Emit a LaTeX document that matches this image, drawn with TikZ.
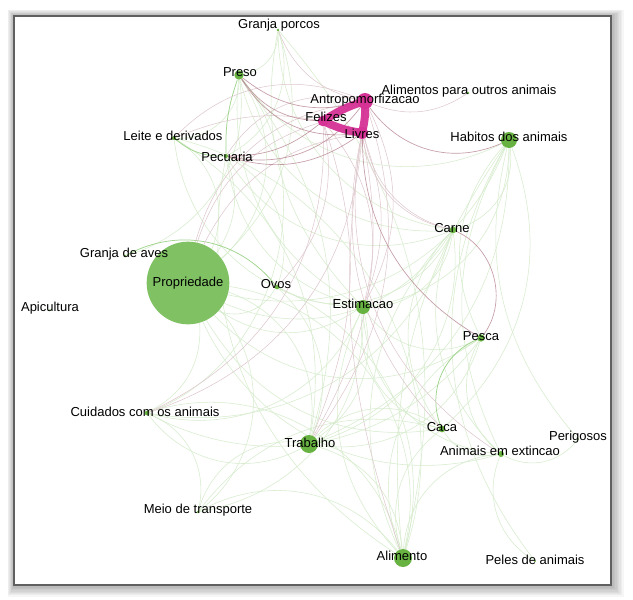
\documentclass[tikz,border=0pt]{standalone}
\usepackage{fontspec}
\setmainfont{Liberation Sans}
\usetikzlibrary{backgrounds}
\definecolor{ngreen}{RGB}{104,178,66}
\definecolor{pgreen}{RGB}{128,193,100}
\definecolor{npink}{RGB}{214,50,150}
\definecolor{eg}{RGB}{214,236,204}
\definecolor{egd}{RGB}{160,212,140}
\definecolor{em}{RGB}{222,200,205}
\definecolor{emd}{RGB}{178,125,138}
\pgfdeclarelayer{bg}
\pgfdeclarelayer{edges}
\pgfsetlayers{bg,edges,main}
\tikzset{
  dot/.style={circle,fill=ngreen,draw=none,inner sep=0pt,minimum size=#1},
  pdot/.style={circle,fill=npink,draw=none,inner sep=0pt,minimum size=#1},
  lbl/.style={inner sep=0pt,font=\fontsize{9.75}{11}\selectfont,text=black},
  ge/.style={draw=eg,line width=0.4pt},
  ged/.style={draw=egd,line width=0.55pt},
  me/.style={draw=em,line width=0.4pt},
  med/.style={draw=emd,line width=0.5pt,opacity=0.75},
  pk/.style={draw=npink,line width=6pt,line cap=round,opacity=0.95}
}
\begin{document}
\begin{tikzpicture}[x=0.75pt,y=-0.75pt]
\useasboundingbox (0,0) rectangle (633,600);
% frame and shadow
\begin{pgfonlayer}{bg}
\fill[white] (0,0) rectangle (633,600);
\foreach \i in {1,...,9}{
  \fill[black,opacity=0.035] (14-\i*0.7,16-\i*0.7) rectangle (611+\i*1.4,585+\i*1.3);
}
\fill[white] (14,16) rectangle (611,585);
\draw[draw=gray!75!black,line width=1.6pt] (14,16) rectangle (611,585);
\end{pgfonlayer}
% nodes (dots)
\node[dot=2pt] (gp) at (278,30) {};
\node[dot=7pt] (preso) at (239,75) {};
\node[pdot=12pt] (antro) at (365,101) {};
\node[dot=2pt] (alout) at (468,93) {};
\node[pdot=8pt] (feli) at (323,121) {};
\node[pdot=9pt] (livr) at (362,133) {};
\node[dot=3pt] (leite) at (174,138) {};
\node[dot=3pt] (pecu) at (226,156) {};
\node[dot=12pt] (habi) at (509,140) {};
\node[dot=5pt] (carne) at (453,230) {};
\node[dot=2pt] (gaves) at (125,256) {};
\node[circle,fill=pgreen,inner sep=0pt,minimum size=62pt] (prop) at (188,283) {};
\node[dot=3.5pt] (ovos) at (277,287) {};
\node[dot=1.5pt] (apic) at (50,310) {};
\node[dot=10.5pt] (esti) at (363,307) {};
\node[dot=5.5pt] (pesca) at (481,338) {};
\node[dot=3.5pt] (cuid) at (147,413) {};
\node[dot=13.5pt] (trab) at (309,444) {};
\node[dot=5pt] (caca) at (442,429) {};
\node[dot=1.5pt] (peri) at (578,439) {};
\node[dot=4.5pt] (exti) at (501,454) {};
\node[dot=2pt] (meio) at (198,512) {};
\node[dot=13.5pt] (alim) at (403,558) {};
\node[dot=1.5pt] (peles) at (535,561) {};
% edges
\begin{pgfonlayer}{edges}
\foreach \a/\b/\c in {
 gp/preso/30, gp/pecu/30, gp/carne/-30, gp/prop/25, gp/alim/20, gp/esti/-20,
 preso/leite/35, preso/prop/30, preso/trab/20, preso/esti/-25, preso/cuid/40, preso/gaves/30, preso/carne/-30, preso/habi/-30,
 prop/leite/-30, prop/meio/35, prop/trab/30, prop/alim/35, prop/esti/-25, prop/carne/-30, prop/pesca/-30, prop/caca/-25, prop/exti/-30, prop/habi/-30, prop/cuid/25, prop/pecu/-20, prop/ovos/-30,
 habi/carne/30, habi/pesca/-25, habi/exti/-20, habi/peri/-20, habi/alim/-15, habi/peles/-25, habi/esti/30, habi/trab/25, habi/caca/25,
 carne/alim/-25, carne/trab/30, carne/esti/30, carne/caca/-30, carne/exti/-25, carne/ovos/35, carne/cuid/30,
 esti/trab/25, esti/alim/-25, esti/pesca/-30, esti/caca/-30, esti/cuid/30, esti/exti/-30, esti/meio/30,
 pesca/alim/-30, pesca/exti/-30, pesca/trab/30, pesca/cuid/30,
 caca/exti/-25, caca/alim/-25, caca/trab/-30, caca/meio/-25,
 trab/meio/-30, trab/alim/25, trab/cuid/30, trab/ovos/-25, trab/leite/-25,
 alim/ovos/-30, alim/leite/-35, alim/exti/30, alim/meio/-30, alim/cuid/-35,
 exti/peri/-30, exti/peles/-30, cuid/meio/30, ovos/pecu/-30, pecu/esti/-25, pecu/carne/-30, pecu/alim/-25, leite/esti/-30}
 {\pgfmathsetmacro\bb{\c*1.35}\draw[ge] (\a) to[bend left=\bb] (\b);}
\foreach \a/\b/\c in {leite/pecu/-20, gaves/ovos/40, pesca/caca/-45, preso/pecu/-10}
 {\draw[ged] (\a) to[bend left=\c] (\b);}
\foreach \a/\b/\c in {
 antro/esti/20, antro/trab/20, antro/prop/-25, antro/pecu/-25, antro/leite/-25, antro/alout/-20, antro/carne/-30,
 livr/esti/15, livr/trab/15, livr/caca/-20, livr/cuid/25, livr/prop/-20, livr/leite/-15, livr/carne/-25, livr/exti/-25, livr/alim/-10,
 feli/esti/20, feli/trab/15, feli/cuid/25, feli/ovos/20, feli/prop/-20, gp/antro/-20}
 {\pgfmathsetmacro\bb{\c*1.35}\draw[me] (\a) to[bend left=\bb] (\b);}
\foreach \a/\b/\c in {preso/feli/-20, preso/livr/-25, preso/antro/-20, pecu/feli/-15, pecu/livr/-20, pecu/antro/-25, antro/habi/-30, antro/pesca/-25, carne/pesca/40}
 {\pgfmathsetmacro\bb{\c*1.3}\draw[med] (\a) to[bend left=\bb] (\b);}
\draw[pk] (antro.center) to[bend right=8] (feli.center);
\draw[pk] (feli.center) to[bend right=8] (livr.center);
\draw[pk] (livr.center) to[bend right=8] (antro.center);
\end{pgfonlayer}
% labels
\node[lbl] (gp-l) at (279,25) {Granja porcos};
\node[lbl] (preso-l) at (240,72) {Preso};
\node[lbl] (antro-l) at (365,100) {Antropomorfizacao};
\node[lbl] (alout-l) at (469,91) {Alimentos para outros animais};
\node[lbl] (feli-l) at (326,117) {Felizes};
\node[lbl] (livr-l) at (362,134) {Livres};
\node[lbl] (leite-l) at (173,136) {Leite e derivados};
\node[lbl] (pecu-l) at (227,157) {Pecuaria};
\node[lbl] (habi-l) at (509,137) {Habitos dos animais};
\node[lbl] (carne-l) at (452,228) {Carne};
\node[lbl] (gaves-l) at (124,254) {Granja de aves};
\node[lbl] (prop-l) at (188,283) {Propriedade};
\node[lbl] (ovos-l) at (276,284) {Ovos};
\node[lbl] (apic-l) at (50,308) {Apicultura};
\node[lbl] (esti-l) at (363,304) {Estimacao};
\node[lbl] (pesca-l) at (481,336) {Pesca};
\node[lbl] (cuid-l) at (145,412) {Cuidados com os animais};
\node[lbl] (trab-l) at (310,443) {Trabalho};
\node[lbl] (caca-l) at (442,427) {Caca};
\node[lbl] (peri-l) at (578,437) {Perigosos};
\node[lbl] (exti-l) at (500,451) {Animais em extincao};
\node[lbl] (meio-l) at (198,510) {Meio de transporte};
\node[lbl] (alim-l) at (402,556) {Alimento};
\node[lbl] (peles-l) at (535,560) {Peles de animais};
\end{tikzpicture}
\end{document}
